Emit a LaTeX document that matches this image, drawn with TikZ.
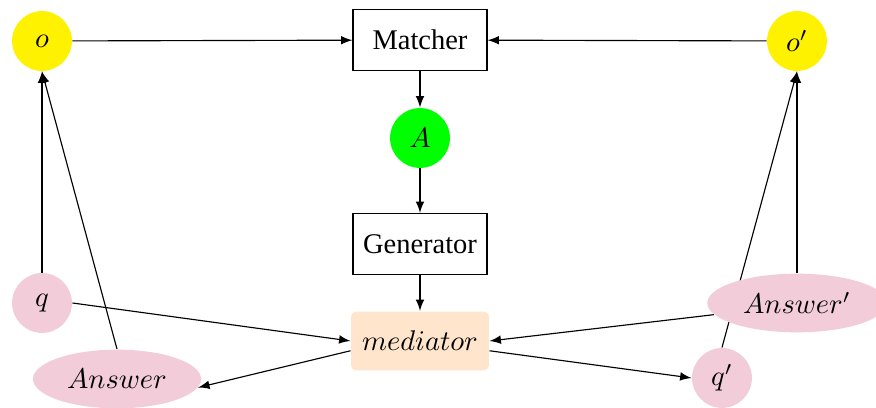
\documentclass[tikz,border=0pt]{standalone}
\usepackage{fontspec}
\setmainfont{Liberation Serif}
\usetikzlibrary{shapes.geometric,backgrounds}

\begin{document}
\begin{tikzpicture}[x=0.351pt,y=0.351pt,yscale=-1,xscale=1,
	obj/.style={circle,fill=yellow,minimum size=21pt,inner sep=0pt},
	query/.style={circle,fill=purple!20,minimum size=21pt,inner sep=0pt},
	answer/.style={ellipse,fill=purple!20,minimum height=20.6pt},
	procbox/.style={draw,rectangle,minimum width=47pt,minimum height=21.4pt},
	link/.style={->,>=latex}]
	\useasboundingbox (0,0) rectangle (876,408);

	\node [obj] (o) at (42,41) {$o$};
	\node [procbox] (matcher) at (420,40) {Matcher};
	\node [obj] (oR) at (797,41) {$o'$};
	\node [circle,fill=green,minimum size=21pt,inner sep=0pt] (A) at (420,138) {$A$};
	\node [procbox] (generator) at (420,244) {Generator};
	\node [query] (q) at (42,303) {$q$};
	\node [rectangle,rounded corners=2pt,fill=orange!20,minimum width=48.4pt,minimum height=20.7pt] (mediator) at (420,341) {$mediator$};
	\node [answer] (answer) at (117,379) {$Answer$};
	\node [answer] (answerR) at (797,303) {$Answer'$};
	\node [query] (qR) at (722,378) {$q'$};

	\begin{scope}[on background layer]
	\draw [link] (o) -- (matcher);
	\draw [link] (oR) -- (matcher);
	\draw [link] (matcher) -- (A);
	\draw [link] (A) -- (generator);
	\draw [link] (generator) -- (mediator);
	\draw [link] (q.north) -- (o.south);
	\draw [link] (answer.north) -- (o.south);
	\draw [link] (q.east) -- (mediator.west);
	\draw [link] (mediator.188) -- (answer.-6);
	\draw [link] (answerR.188) -- (mediator.east);
	\draw [link] (mediator.-8) -- (qR.west);
	\draw [link] (answerR.north) -- (oR.south);
	\draw [link] (qR.north) -- (oR.south);
	\end{scope}
\end{tikzpicture}
\end{document}
